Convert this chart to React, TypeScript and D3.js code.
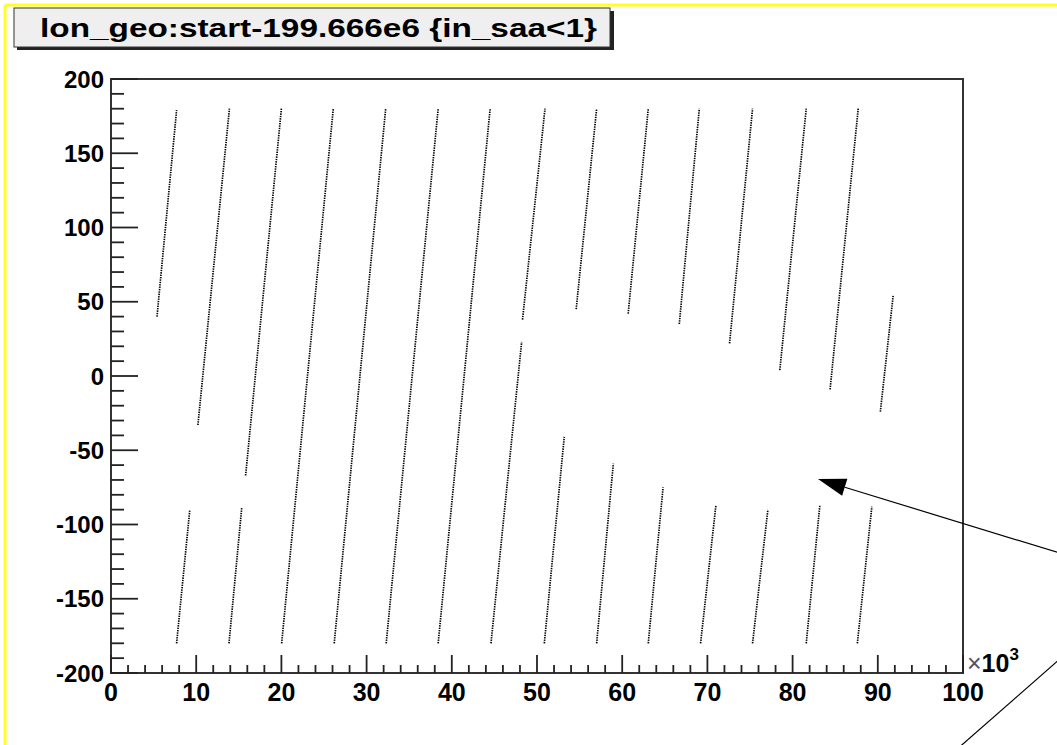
import React from 'react';
import * as d3 from 'd3';

// orbit track pieces outside the SAA: start/end time (x10^3 s) and geographic longitude (deg)
const tStart = [5.4, 7.7, 10.2, 13.85, 15.8, 20.03, 26.2, 32.3, 38.4, 44.6, 48.3, 50.86, 54.6, 57.0, 60.7, 63.06, 66.7, 69.2, 72.6, 75.3, 78.5, 81.6, 84.4, 87.6, 90.3];
const lonStart = [40, -180, -33, -180, -67, -180, -180, -180, -180, -180, 38, -180, 45, -180, 42, -180, 35, -180, 22, -180, 4, -180, -9, -180, -24];
const tEnd = [7.7, 9.25, 13.9, 15.34, 20.0, 26.09, 32.24, 38.4, 44.5, 48.2, 50.94, 53.2, 57.0, 58.96, 63.06, 64.8, 69.05, 71.0, 75.3, 77.1, 81.6, 83.2, 87.7, 89.3, 91.8];
const lonEnd = [179, -90, 180, -89, 180, 180, 180, 180, 180, 23, 180, -41, 180, -59, 180, -75, 180, -87, 180, -90, 180, -87, 180, -88, 54];

const xTickLabels = ['0', '10', '20', '30', '40', '50', '60', '70', '80', '90', '100'];
const yTickLabels = ['-200', '-150', '-100', '-50', '0', '50', '100', '150', '200'];

const title = 'lon_geo:start-199.666e6 {in_saa<1}';

// annotation lines, in data coordinates
const arrowFrom = [111.5, -119.5];
const arrowTo = [82.98, -69.4];
const slashFrom = [112.5, -184.9];
const slashTo = [99.2, -251.8];

const W = 1057;
const H = 745;
const font = '"Liberation Sans", Arial, Helvetica, sans-serif';

export default function App() {
  const x = d3.scaleLinear().domain([0, 100]).range([111, 963]);
  const y = d3.scaleLinear().domain([-200, 200]).range([673, 79]);

  const line = d3.line<number[]>().x((d) => x(d[0])).y((d) => y(d[1]));

  const xMajor = x.ticks(10);
  const xMinor = x.ticks(50).filter((v) => v % 10 !== 0);
  const yMajor = y.ticks(8);
  const yMinor = y.ticks(40).filter((v) => v % 50 !== 0);

  const ax0 = x(arrowFrom[0]), ay0 = y(arrowFrom[1]);
  const ax1 = x(arrowTo[0]), ay1 = y(arrowTo[1]);
  const ang = Math.atan2(ay1 - ay0, ax1 - ax0);
  const hl = 28, hw = 9;
  const bx = ax1 - hl * Math.cos(ang), by = ay1 - hl * Math.sin(ang);
  const head = [
    [ax1, ay1],
    [bx + hw * Math.sin(ang), by - hw * Math.cos(ang)],
    [bx - hw * Math.sin(ang), by + hw * Math.cos(ang)],
  ];

  return (
    <svg width={W} height={H} style={{ position: 'absolute', left: 0, top: 0, background: '#fff' }}>
      <rect x={0} y={0} width={W} height={H} fill="#fff" />
      {/* canvas border */}
      <line x1={5} y1={5} x2={W} y2={5} stroke="#ffff20" strokeWidth={3} />
      <line x1={5} y1={5} x2={5} y2={H} stroke="#ffff20" strokeWidth={3} />

      {/* title box */}
      <rect x={17} y={11} width={597} height={39} fill="#222" />
      <rect x={14} y={8} width={596} height={39} fill="#efefef" stroke="#333" strokeWidth={1} />
      <text x={40} y={37} fontFamily={font} fontWeight="bold" fontSize={26} textLength={557} lengthAdjust="spacingAndGlyphs" fill="#000">
        {title}
      </text>

      {/* data */}
      {tStart.map((t, i) => (
        <path
          key={i}
          d={line([[t, lonStart[i]], [tEnd[i], lonEnd[i]]]) || ''}
          fill="none"
          stroke="#000"
          strokeWidth={1.7}
          strokeDasharray="1.4 1"
        />
      ))}

      {/* frame */}
      <rect x={111} y={79} width={852} height={594} fill="none" stroke="#333" strokeWidth={2} />

      {/* y axis ticks */}
      {yMajor.map((v) => (
        <line key={'ym' + v} x1={111} x2={138} y1={y(v)} y2={y(v)} stroke="#222" strokeWidth={1.8} />
      ))}
      {yMinor.map((v) => (
        <line key={'yn' + v} x1={111} x2={124} y1={y(v)} y2={y(v)} stroke="#222" strokeWidth={1.8} />
      ))}
      {yMajor.map((v, i) => (
        <text key={'yl' + v} x={104} y={y(v)} dy="0.36em" textAnchor="end" fontFamily={font} fontWeight="bold" fontSize={24} fill="#000">
          {yTickLabels[i]}
        </text>
      ))}

      {/* x axis ticks */}
      {xMajor.map((v) => (
        <line key={'xm' + v} x1={x(v)} x2={x(v)} y1={673} y2={655} stroke="#222" strokeWidth={1.8} />
      ))}
      {xMinor.map((v) => (
        <line key={'xn' + v} x1={x(v)} x2={x(v)} y1={673} y2={665} stroke="#222" strokeWidth={1.8} />
      ))}
      {xMajor.map((v, i) => (
        <text key={'xl' + v} x={x(v)} y={701} textAnchor="middle" fontFamily={font} fontWeight="bold" fontSize={25} fill="#000">
          {xTickLabels[i]}
        </text>
      ))}
      <text x={967} y={672} fontFamily={font} fontWeight="bold" fontSize={25} fill="#000">
        <tspan fontWeight="normal" fill="#555">×</tspan>
        <tspan>10</tspan>
        <tspan fontSize={17} dy={-12}>3</tspan>
      </text>

      {/* annotation */}
      <line x1={ax0} y1={ay0} x2={bx} y2={by} stroke="#000" strokeWidth={1.2} />
      <polygon points={head.map((p) => p.join(',')).join(' ')} fill="#000" />
      <path d={line([slashFrom, slashTo]) || ''} stroke="#000" strokeWidth={1.2} fill="none" />
    </svg>
  );
}
